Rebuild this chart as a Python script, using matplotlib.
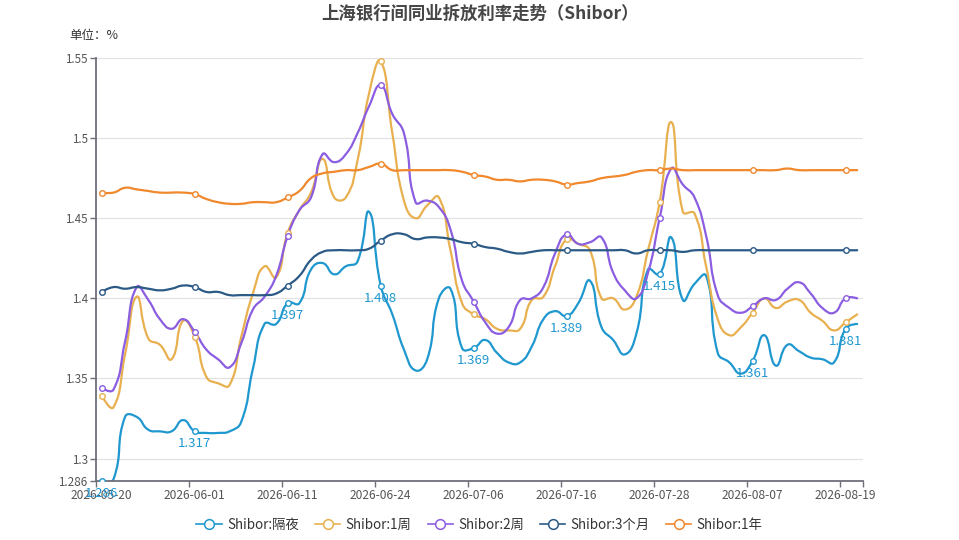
import matplotlib
matplotlib.use('Agg')
import matplotlib.pyplot as plt
from matplotlib.path import Path
from matplotlib.patches import PathPatch
from matplotlib.lines import Line2D
import numpy as np
import pandas as pd

plt.rcParams['font.family'] = ['Noto Sans CJK SC', 'DejaVu Sans']

# business days, Dragon Boat holiday (06-19) dropped
dates = [d.strftime('%Y-%m-%d') for d in pd.bdate_range('2026-05-20', '2026-08-20')
         if d.strftime('%Y-%m-%d') != '2026-06-19']

overnight = [1.286, 1.287, 1.326, 1.326, 1.318, 1.317, 1.317, 1.324, 1.317, 1.316,
             1.316, 1.317, 1.323, 1.356, 1.384, 1.384, 1.397, 1.397, 1.418, 1.422,
             1.415, 1.420, 1.423, 1.454, 1.408, 1.390, 1.368, 1.355, 1.362, 1.400,
             1.406, 1.369, 1.369, 1.374, 1.366, 1.360, 1.360, 1.370, 1.387, 1.392,
             1.389, 1.397, 1.411, 1.382, 1.374, 1.365, 1.378, 1.418, 1.415, 1.438,
             1.399, 1.409, 1.414, 1.366, 1.360, 1.353, 1.361, 1.377, 1.358, 1.371,
             1.367, 1.363, 1.362, 1.360, 1.381, 1.384]
week1 = [1.339, 1.332, 1.365, 1.401, 1.375, 1.371, 1.362, 1.386, 1.376, 1.351,
         1.347, 1.346, 1.376, 1.403, 1.420, 1.413, 1.441, 1.455, 1.466, 1.487,
         1.463, 1.463, 1.486, 1.528, 1.548, 1.503, 1.461, 1.450, 1.458, 1.463,
         1.430, 1.397, 1.390, 1.387, 1.381, 1.380, 1.381, 1.399, 1.401, 1.420,
         1.437, 1.434, 1.430, 1.400, 1.400, 1.393, 1.401, 1.430, 1.460, 1.510,
         1.454, 1.453, 1.420, 1.387, 1.377, 1.382, 1.391, 1.400, 1.394, 1.398,
         1.399, 1.391, 1.386, 1.380, 1.385, 1.390]
week2 = [1.344, 1.343, 1.373, 1.407, 1.399, 1.387, 1.381, 1.387, 1.379, 1.368,
         1.362, 1.357, 1.372, 1.393, 1.401, 1.414, 1.439, 1.455, 1.463, 1.490,
         1.485, 1.490, 1.503, 1.520, 1.533, 1.515, 1.503, 1.460, 1.461, 1.457,
         1.443, 1.411, 1.398, 1.385, 1.378, 1.382, 1.399, 1.400, 1.407, 1.428,
         1.440, 1.434, 1.435, 1.438, 1.416, 1.405, 1.400, 1.416, 1.450, 1.481,
         1.471, 1.463, 1.439, 1.402, 1.394, 1.391, 1.395, 1.400, 1.399, 1.406,
         1.410, 1.403, 1.394, 1.391, 1.400, 1.400]
month3 = [1.404, 1.407, 1.406, 1.407, 1.406, 1.405, 1.406, 1.408, 1.407, 1.404,
          1.404, 1.402, 1.402, 1.402, 1.402, 1.403, 1.408, 1.414, 1.424, 1.429,
          1.430, 1.430, 1.430, 1.431, 1.436, 1.440, 1.440, 1.437, 1.438, 1.438,
          1.437, 1.435, 1.434, 1.432, 1.431, 1.429, 1.428, 1.429, 1.430, 1.430,
          1.430, 1.430, 1.430, 1.430, 1.430, 1.430, 1.428, 1.430, 1.430, 1.430,
          1.429, 1.430, 1.430, 1.430, 1.430, 1.430, 1.430, 1.430, 1.430, 1.430,
          1.430, 1.430, 1.430, 1.430, 1.430, 1.430]
year1 = [1.466, 1.466, 1.469, 1.468, 1.467, 1.466, 1.466, 1.466, 1.465, 1.462,
         1.460, 1.459, 1.459, 1.460, 1.460, 1.460, 1.463, 1.467, 1.475, 1.478,
         1.479, 1.480, 1.480, 1.482, 1.484, 1.480, 1.480, 1.480, 1.480, 1.480,
         1.480, 1.479, 1.477, 1.476, 1.474, 1.474, 1.473, 1.474, 1.474, 1.473,
         1.471, 1.472, 1.473, 1.475, 1.476, 1.477, 1.479, 1.480, 1.480, 1.481,
         1.480, 1.480, 1.480, 1.480, 1.480, 1.480, 1.480, 1.480, 1.480, 1.481,
         1.480, 1.480, 1.480, 1.480, 1.480, 1.480]

series_names = ['Shibor:隔夜', 'Shibor:1周', 'Shibor:2周', 'Shibor:3个月', 'Shibor:1年']
series_vals = [overnight, week1, week2, month3, year1]
colors = ['#1f97cf', '#e8b04f', '#8b5de0', '#2b5a86', '#f0882d']

y_ticks = [1.286, 1.3, 1.35, 1.4, 1.45, 1.5, 1.55]


def smooth_path(vals, sx=11.61, sy=1602.0, smooth=0.5):
    # echarts-style bezier smoothing, computed in pixel-like units
    pts = np.column_stack([np.arange(len(vals)) * sx, np.asarray(vals) * sy])
    n = len(pts)
    verts = [pts[0]]
    codes = [Path.MOVETO]
    cp0 = pts[0]
    for i in range(1, n):
        p = pts[i]
        prev = pts[i - 1]
        if i < n - 1:
            nxt = pts[i + 1]
            v = (nxt - prev) * smooth
            d0 = np.hypot(*(p - prev))
            d1 = np.hypot(*(nxt - p))
            r = d1 / (d0 + d1) if d0 + d1 > 0 else 0.5
            cp1 = p - v * (1 - r)
            next_cp0 = p + v * r
        else:
            cp1 = p
            next_cp0 = p
        verts += [cp0, cp1, p]
        codes += [Path.CURVE4] * 3
        cp0 = next_cp0
    verts = np.array(verts, dtype=float)
    verts[:, 0] /= sx
    verts[:, 1] /= sy
    return Path(verts, codes)


fig = plt.figure(figsize=(9.59, 5.4), dpi=100)
ax = fig.add_axes([96 / 959, 59 / 540, 767 / 959, 423 / 540])

n = len(dates)
ax.set_xlim(-0.5, n - 0.5)
ax.set_ylim(1.286, 1.55)

for y in y_ticks[1:]:
    ax.axhline(y, color='#e2e2e2', lw=0.9, zorder=0)

mark_idx = list(range(0, n, 8))
for name, vals, c in zip(series_names, series_vals, colors):
    ax.add_patch(PathPatch(smooth_path(vals), facecolor='none', edgecolor=c,
                           lw=1.6, zorder=2, capstyle='round', joinstyle='round'))
    ax.plot(mark_idx, [vals[i] for i in mark_idx], 'o', mfc='white', mec=c,
            ms=4.0, mew=1.0, zorder=3)

for i in mark_idx:
    ax.annotate(f'{overnight[i]:g}', (i, overnight[i]), xytext=(0, -9),
                textcoords='offset points', ha='center', va='center',
                fontsize=9.5, color=colors[0], zorder=5, annotation_clip=False)

for side in ['top', 'right']:
    ax.spines[side].set_visible(False)
for side in ['left', 'bottom']:
    ax.spines[side].set_color('#6e7079')
    ax.spines[side].set_linewidth(1.3)

ax.set_yticks(y_ticks)
ax.set_yticklabels([f'{t:g}' for t in y_ticks])
ax.tick_params(axis='y', length=4, width=1, color='#6e7079', labelsize=8.4,
               labelcolor='#555555', pad=2)

label_idx = list(range(0, n, 8))
ax.set_xticks([i - 0.5 for i in label_idx] + [n - 0.5])
ax.set_xticklabels([])
ax.set_xticks(label_idx, minor=True)
ax.set_xticklabels([dates[i] for i in label_idx], minor=True)
ax.tick_params(axis='x', which='major', length=4, width=1, color='#6e7079')
ax.tick_params(axis='x', which='minor', length=0, labelsize=8.6,
               labelcolor='#555555', pad=6)

fig.text(0.5, 1 - 14 / 540, '上海银行间同业拆放利率走势（Shibor）', ha='center',
         va='center', fontsize=12.5, fontweight='bold', color='#464646')
fig.text(69 / 959, 1 - 36 / 540, '单位：%', ha='left', va='center',
         fontsize=9, color='#333333')

handles = [Line2D([], [], color=c, lw=1.2, marker='o', mfc='white', mec=c,
                  ms=7, mew=1.1) for c in colors]
leg = fig.legend(handles, series_names, loc='center', ncol=5,
                 bbox_to_anchor=(0.5, 15 / 540), frameon=False, fontsize=9.6,
                 handlelength=1.9, handletextpad=0.4, columnspacing=1.2)
for t in leg.get_texts():
    t.set_color('#333333')

fig.savefig('out.png', dpi=100)
